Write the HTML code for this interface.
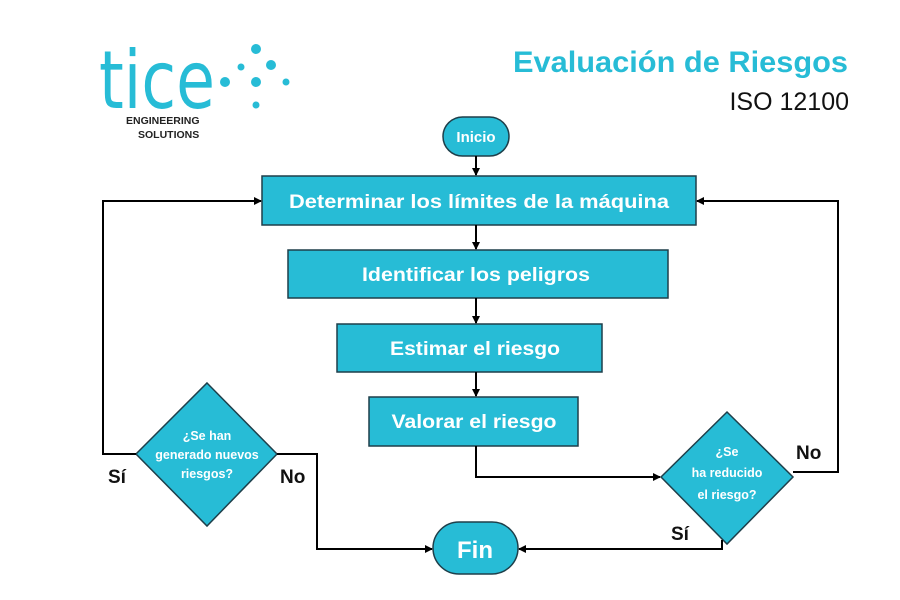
<!DOCTYPE html>
<html><head><meta charset="utf-8"><style>
html,body{margin:0;padding:0;background:#fff;}
svg{display:block;font-family:"Liberation Sans",sans-serif;}
</style></head><body>
<svg width="900" height="600" viewBox="0 0 900 600" xmlns="http://www.w3.org/2000/svg">
<defs><marker id="a" markerWidth="8" markerHeight="8" refX="7" refY="4" orient="auto" markerUnits="userSpaceOnUse"><path d="M0,0 L8,4 L0,8 z" fill="#000"/></marker></defs>
<!-- logo -->
<text x="99" y="108" font-size="80" fill="#27bcd6" font-family="DejaVu Sans, sans-serif" textLength="116" lengthAdjust="spacingAndGlyphs">tice</text>
<g fill="#27bcd6">
<circle cx="225" cy="82" r="5"/><circle cx="241" cy="67" r="3.5"/><circle cx="256" cy="49" r="5"/><circle cx="271" cy="65" r="5"/><circle cx="256" cy="82" r="5"/><circle cx="286" cy="82" r="3.5"/><circle cx="256" cy="105" r="3.5"/>
</g>
<text x="126" y="124" font-size="10.5" font-weight="bold" fill="#222">ENGINEERING</text>
<text x="138" y="138" font-size="10.5" font-weight="bold" fill="#222">SOLUTIONS</text>
<!-- title -->
<text x="513" y="72" font-size="30" font-weight="bold" fill="#27bcd6" textLength="335" lengthAdjust="spacingAndGlyphs">Evaluación de Riesgos</text>
<text x="849" y="110" font-size="25" fill="#111" text-anchor="end">ISO 12100</text>
<!-- shapes -->
<g fill="#27bcd6" stroke="#1e3f4a" stroke-width="1.5">
<rect x="443" y="117" width="66" height="39" rx="19.5"/>
<rect x="262" y="176" width="434" height="49"/>
<rect x="288" y="250" width="380" height="48"/>
<rect x="337" y="324" width="265" height="48"/>
<rect x="369" y="397" width="209" height="49"/>
<polygon points="207,383 277,454 207,526 136,454"/>
<polygon points="727,412 793,477 727,544 661,477"/>
<rect x="433" y="522" width="85" height="52" rx="26"/>
</g>
<g fill="#fff" font-weight="bold" text-anchor="middle">
<text x="476" y="142" font-size="15">Inicio</text>
<text x="479" y="208" font-size="19" textLength="380" lengthAdjust="spacingAndGlyphs">Determinar los límites de la máquina</text>
<text x="476" y="281" font-size="19" textLength="228" lengthAdjust="spacingAndGlyphs">Identificar los peligros</text>
<text x="475" y="355" font-size="19" textLength="170" lengthAdjust="spacingAndGlyphs">Estimar el riesgo</text>
<text x="474" y="428" font-size="19" textLength="165" lengthAdjust="spacingAndGlyphs">Valorar el riesgo</text>
<text x="207" y="440" font-size="12.5">¿Se han</text>
<text x="207" y="459" font-size="12.5">generado nuevos</text>
<text x="207" y="478" font-size="12.5">riesgos?</text>
<text x="727" y="456" font-size="12.5">¿Se</text>
<text x="727" y="477" font-size="12.5">ha reducido</text>
<text x="727" y="499" font-size="12.5">el riesgo?</text>
<text x="475" y="558" font-size="24">Fin</text>
</g>
<!-- connectors -->
<g fill="none" stroke="#000" stroke-width="2">
<line x1="476" y1="156" x2="476" y2="175" marker-end="url(#a)"/>
<line x1="476" y1="225" x2="476" y2="249" marker-end="url(#a)"/>
<line x1="476" y1="298" x2="476" y2="323" marker-end="url(#a)"/>
<line x1="476" y1="372" x2="476" y2="396" marker-end="url(#a)"/>
<polyline points="136,454 103,454 103,201 261,201" marker-end="url(#a)"/>
<polyline points="277,454 317,454 317,549 432,549" marker-end="url(#a)"/>
<polyline points="476,446 476,477 660,477" marker-end="url(#a)"/>
<polyline points="793,472 838,472 838,201 697,201" marker-end="url(#a)"/>
<polyline points="722,540 722,549 519,549" marker-end="url(#a)"/>
</g>
<g font-weight="bold" font-size="19" fill="#111">
<text x="108" y="483">Sí</text>
<text x="280" y="483">No</text>
<text x="796" y="459">No</text>
<text x="671" y="540">Sí</text>
</g>
</svg>
</body></html>
